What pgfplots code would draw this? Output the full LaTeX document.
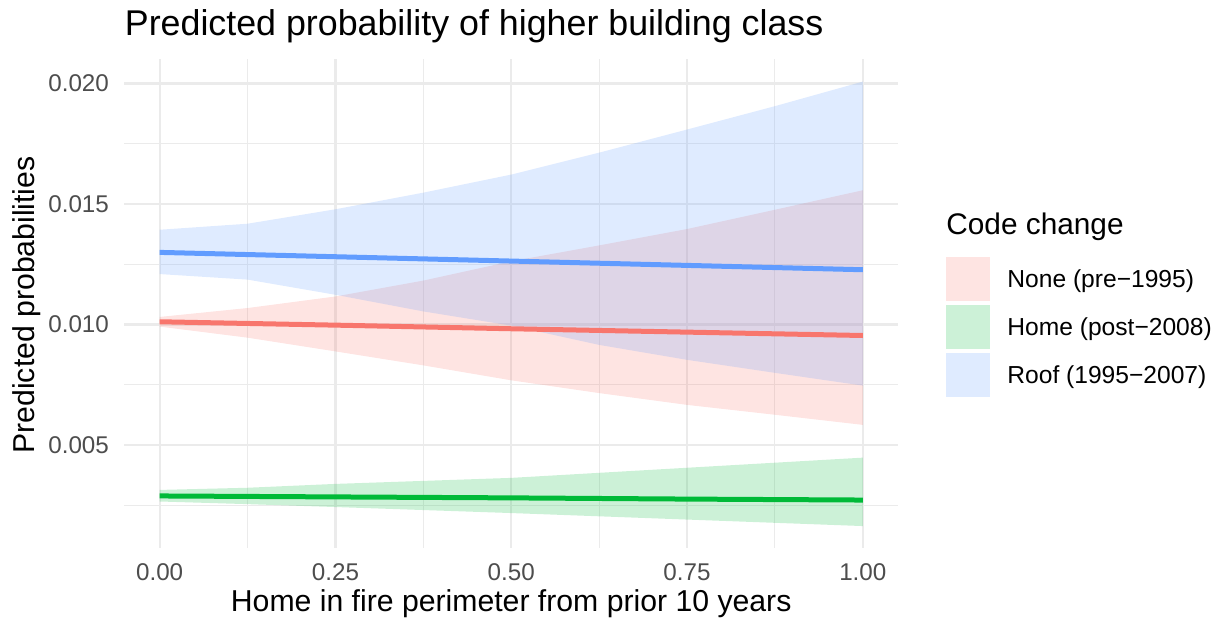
\documentclass[border=0pt]{standalone}
\usepackage{fontspec}
\setmainfont{Liberation Sans}
\usepackage{pgfplots}
\usepackage{pgfplotstable}
\pgfplotsset{compat=1.18}
\usepgfplotslibrary{fillbetween}
\usetikzlibrary{calc}
\definecolor{cred}{HTML}{F8766D}
\definecolor{cgreen}{HTML}{00BA38}
\definecolor{cblue}{HTML}{619CFF}
\definecolor{kred}{HTML}{FEE4E2}
\definecolor{kgreen}{HTML}{CCF1D7}
\definecolor{kblue}{HTML}{DFEBFF}
\definecolor{gridc}{HTML}{EBEBEB}
\definecolor{ticklab}{HTML}{4D4D4D}

\pgfplotstableread{
x      lo       hi
0      0.00991  0.01031
0.125  0.00945  0.01068
0.25   0.00888  0.01116
0.375  0.00830  0.01182
0.5    0.00768  0.01262
0.625  0.00715  0.01328
0.75   0.00666  0.01396
0.875  0.00625  0.01476
1      0.00583  0.01557
}\redband
\pgfplotstableread{
x      lo       hi
0      0.00265  0.00313
0.125  0.00254  0.00322
0.25   0.00242  0.00338
0.5    0.00217  0.00363
0.75   0.00190  0.00405
1      0.00163  0.00447
}\greenband
\pgfplotstableread{
x      lo       hi
0      0.01209  0.01393
0.125  0.01186  0.01418
0.25   0.01123  0.01478
0.375  0.01054  0.01547
0.5    0.00995  0.01622
0.625  0.00915  0.01713
0.75   0.00853  0.01809
0.875  0.00799  0.01906
1      0.00746  0.02008
}\blueband
\pgfplotstableread{
x     red      green    blue
0     0.01011  0.00288  0.01299
0.25  0.00997  0.00284  0.01281
0.5   0.00982  0.00280  0.01263
0.75  0.00968  0.00275  0.01245
1     0.00954  0.00271  0.01227
}\means

\begin{document}
\begin{tikzpicture}
\begin{axis}[
  set layers,
  scale only axis,
  width=386.75pt, height=244.25pt,
  xmin=-0.05, xmax=1.05,
  ymin=0.00072, ymax=0.020997,
  axis line style={draw=none},
  major tick length=0pt, minor tick length=0pt,
  xtick={0,0.25,0.5,0.75,1},
  minor xtick={0.125,0.375,0.625,0.875},
  ytick={0.005,0.01,0.015,0.02},
  minor ytick={0.0025,0.0075,0.0125,0.0175},
  grid=both,
  major grid style={color=gridc, line width=1.1pt},
  minor grid style={color=gridc, line width=0.55pt},
  scaled y ticks=false, scaled x ticks=false,
  /pgf/number format/assume math mode=true,
  tick label style={font=\fontsize{12.1}{14}\selectfont, text=ticklab, inner sep=0pt},
  xticklabel style={anchor=north, yshift=-7.5pt, /pgf/number format/.cd, fixed, fixed zerofill, precision=2},
  yticklabel style={anchor=east, xshift=-7.6pt, /pgf/number format/.cd, fixed, fixed zerofill, precision=3},
]
\addplot[draw=none, name path=rlo, forget plot] table[x=x, y=lo] {\redband};
\addplot[draw=none, name path=rhi, forget plot] table[x=x, y=hi] {\redband};
\addplot[fill=cred, fill opacity=0.2, draw=none] fill between[of=rlo and rhi];
\addplot[draw=none, name path=glo, forget plot] table[x=x, y=lo] {\greenband};
\addplot[draw=none, name path=ghi, forget plot] table[x=x, y=hi] {\greenband};
\addplot[fill=cgreen, fill opacity=0.2, draw=none] fill between[of=glo and ghi];
\addplot[draw=none, name path=blo, forget plot] table[x=x, y=lo] {\blueband};
\addplot[draw=none, name path=bhi, forget plot] table[x=x, y=hi] {\blueband};
\addplot[fill=cblue, fill opacity=0.2, draw=none] fill between[of=blo and bhi];
\addplot[cred, line width=2.5pt, no marks] table[x=x, y=red] {\means};
\addplot[cgreen, line width=2.5pt, no marks] table[x=x, y=green] {\means};
\addplot[cblue, line width=2.5pt, no marks] table[x=x, y=blue] {\means};
\end{axis}
\coordinate (O) at ($(current axis.north west)+(-62.25pt,29.75pt)$);
% title
\node[anchor=base west, inner sep=0pt, font=\fontsize{17.9}{22}\selectfont] at ($(O)+(62.25pt,-18pt)$) {Predicted probability of higher building class};
% axis titles
\node[anchor=base, inner sep=0pt, font=\fontsize{15.1}{18}\selectfont] at ($(O)+(255.6pt,-305.85pt)$) {Home in fire perimeter from prior 10 years};
\node[anchor=base, rotate=90, inner sep=0pt, font=\fontsize{15.1}{18}\selectfont] at ($(O)+(17.5pt,-152.5pt)$) {Predicted probabilities};
% legend
\node[anchor=base west, inner sep=0pt, font=\fontsize{14.9}{18}\selectfont] at ($(O)+(473pt,-117.5pt)$) {Code change};
\fill[kred] ($(O)+(473pt,-128.35pt)$) rectangle ($(O)+(495pt,-150.35pt)$);
\fill[kgreen] ($(O)+(473pt,-152.5pt)$) rectangle ($(O)+(495pt,-174.5pt)$);
\fill[kblue] ($(O)+(473pt,-176.5pt)$) rectangle ($(O)+(495pt,-198.35pt)$);
\node[anchor=base west, inner sep=0pt, font=\fontsize{12.3}{14}\selectfont] at ($(O)+(503.5pt,-143.8pt)$) {None (pre−1995)};
\node[anchor=base west, inner sep=0pt, font=\fontsize{12.3}{14}\selectfont] at ($(O)+(503.5pt,-167.95pt)$) {Home (post−2008)};
\node[anchor=base west, inner sep=0pt, font=\fontsize{12.3}{14}\selectfont] at ($(O)+(503.5pt,-191.95pt)$) {Roof (1995−2007)};
\pgfresetboundingbox
\useasboundingbox (O) rectangle ($(O)+(611pt,-312.5pt)$);
\end{tikzpicture}
\end{document}
